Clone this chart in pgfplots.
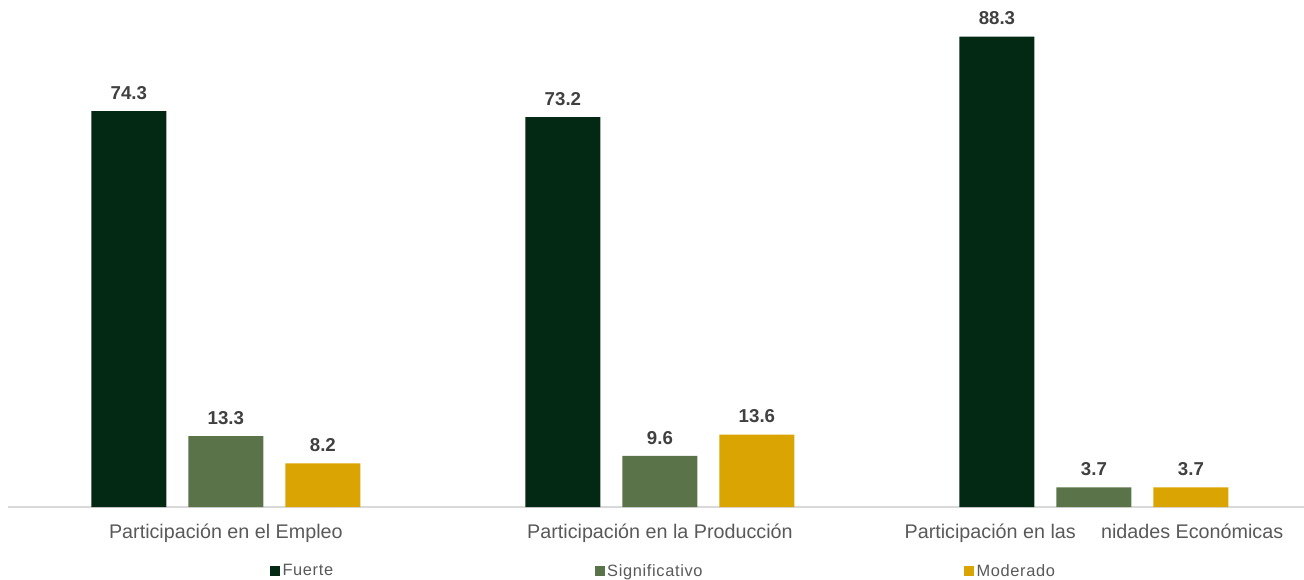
\documentclass[border=0pt]{standalone}
\usepackage{fontspec}
\setmainfont{Liberation Sans}
\newfontfamily\legendfont[LetterSpace=4]{Liberation Sans}
\usepackage{pgfplots}
\pgfplotsset{compat=1.18}
\definecolor{fuerte}{HTML}{032814}
\definecolor{signif}{HTML}{5B7349}
\definecolor{moder}{HTML}{DAA403}
\definecolor{axisgray}{HTML}{D9D9D9}
\definecolor{ticktext}{HTML}{595959}
\definecolor{labeltext}{HTML}{404040}
\begin{document}
\begin{tikzpicture}
\begin{axis}[
    scale only axis,
    width=972pt, height=380pt,
    ybar=16.5pt,
    bar width=56.25pt,
    xmin=-0.502, xmax=2.484,
    ymin=0, ymax=95.1,
    axis x line*=bottom,
    axis y line=none,
    x axis line style={axisgray, line width=1.5pt, -},
    xtick={0,1,2},
    xticklabels={Participación en el Empleo, Participación en la Producción, Participación en las\hspace{19pt}nidades Económicas},
    major tick length=0pt,
    xticklabel style={font=\fontsize{14.8}{17}\selectfont, text=ticktext, yshift=-9pt},
    nodes near coords,
    nodes near coords style={font=\bfseries\fontsize{14}{16}\selectfont, text=labeltext, yshift=5pt,
        /pgf/number format/.cd, fixed, fixed zerofill, precision=1, assume math mode=true},
    legend columns=3,
    legend style={draw=none, at={(0.506,-0.1265)}, anchor=center,
        font=\legendfont\fontsize{12.3}{14}\selectfont, text=ticktext,
        /tikz/every even column/.append style={column sep=194pt},
        inner sep=0pt},
    legend image code/.code={\fill[#1] (0pt,-3.75pt) rectangle (7.5pt,3.75pt);},
    clip=false,
]
\addplot[fill=fuerte, draw=none] coordinates {(0,74.3) (1,73.2) (2,88.3)};
\addlegendentry{Fuerte}
\addplot[fill=signif, draw=none] coordinates {(0,13.3) (1,9.6) (2,3.7)};
\addlegendentry{Significativo}
\addplot[fill=moder, draw=none] coordinates {(0,8.2) (1,13.6) (2,3.7)};
\addlegendentry{Moderado}
\end{axis}
\pgfresetboundingbox
\useasboundingbox (-6pt,-54pt) rectangle (972pt,380.25pt);
\end{tikzpicture}
\end{document}
